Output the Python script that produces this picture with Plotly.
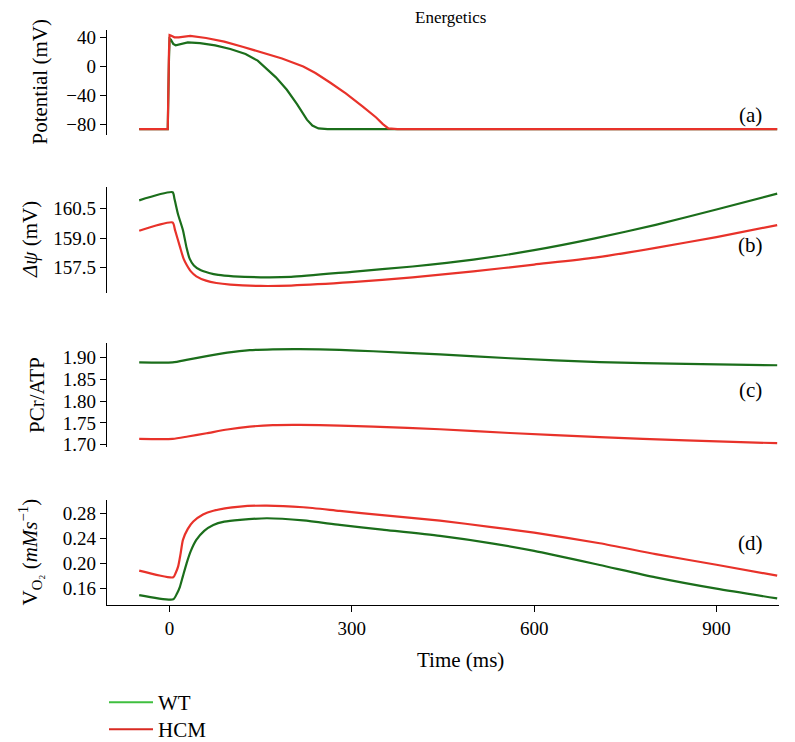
import plotly.graph_objects as go

# ---------------- data ----------------
# (a) membrane potential (mV)
ap_wt_t = [-50, -3, -1, 0, 2, 6, 10, 18, 30, 50, 75, 100, 125, 145, 160, 175, 193, 210, 226, 235, 245, 260, 1000]
ap_wt_v = [-86, -86, 10, 38, 37, 31, 29, 31, 33, 32, 29, 24, 17, 8, -3, -15, -32, -52, -73, -81, -85, -86, -86]
ap_hcm_t = [-50, -3, -1, 0, 3, 8, 15, 34, 60, 90, 120, 150, 185, 220, 240, 264, 290, 318, 340, 351, 360, 375, 1000]
ap_hcm_v = [-86, -86, 20, 43, 42, 40, 40, 42, 39, 34, 27, 20, 11, 0, -9, -22, -37, -55, -70, -79, -85, -86, -86]

# (b) mitochondrial membrane potential (mV)
dpsi_wt_t = [-50, 5, 8, 14, 22, 28, 33, 40, 50, 65, 80, 105, 150, 200, 300, 400, 500, 600, 700, 800, 900, 1000]
dpsi_wt_v = [160.92, 161.33, 161.0, 160.2, 159.4, 158.5, 157.95, 157.6, 157.38, 157.22, 157.12, 157.05, 157.0,
             157.02, 157.28, 157.55, 157.9, 158.38, 158.98, 159.67, 160.45, 161.26]
dpsi_hcm_t = [-50, 5, 9, 17, 23, 28, 35, 44, 60, 77, 100, 150, 200, 300, 400, 500, 600, 700, 800, 900, 1000]
dpsi_hcm_v = [159.37, 159.79, 159.4, 158.56, 157.95, 157.64, 157.3, 157.05, 156.83, 156.71, 156.63, 156.56,
              156.58, 156.75, 157.0, 157.3, 157.65, 158.0, 158.5, 159.05, 159.66]

# (c) PCr/ATP
pcr_t = [-50, 5, 30, 61, 95, 132, 170, 214, 280, 335, 445, 560, 708, 850, 1000]
pcr_wt = [1.8886, 1.8886, 1.895, 1.903, 1.911, 1.9167, 1.9185, 1.919, 1.917, 1.914, 1.907, 1.898, 1.889, 1.885, 1.882]
pcr_hcm = [1.7135, 1.7135, 1.719, 1.7265, 1.735, 1.7416, 1.745, 1.7455, 1.744, 1.7416, 1.7356, 1.727, 1.7174, 1.710, 1.7037]

# (d) oxygen consumption (mM/s)
vo2_wt_t = [-50, 6, 12, 17, 22, 28, 35, 44, 57, 72, 90, 116, 160, 220, 280, 350, 445, 530, 600, 708, 800, 900, 1000]
vo2_wt_v = [0.1498, 0.143, 0.152, 0.163, 0.180, 0.2003, 0.220, 0.2375, 0.252, 0.2614, 0.2665, 0.2693, 0.272,
            0.2685, 0.2614, 0.254, 0.2438, 0.232, 0.220, 0.1976, 0.178, 0.160, 0.1445]
vo2_hcm_t = [-50, 6, 10, 14, 18, 22, 30, 39, 55, 72, 116, 160, 220, 280, 350, 445, 530, 600, 708, 800, 900, 1000]
vo2_hcm_v = [0.1886, 0.178, 0.185, 0.195, 0.215, 0.2375, 0.255, 0.2667, 0.278, 0.284, 0.2906, 0.2921, 0.2895,
             0.2837, 0.277, 0.2682, 0.258, 0.249, 0.2322, 0.215, 0.198, 0.1806]

series_names = ["WT", "HCM"]
x_ticks = [0, 300, 600, 900]
ticks_a = [40, 0, -40, -80]
ticks_b = [160.5, 159.0, 157.5]
ticks_c = [1.90, 1.85, 1.80, 1.75, 1.70]
ticks_d = [0.28, 0.24, 0.20, 0.16]

# ---------------- style ----------------
WT_C = "#1b6e1b"
HCM_C = "#e8322a"
WT_LEG = "#3fbf3f"
HCM_LEG = "#d92a22"
FONT = "Liberation Serif"
FS_TICK = 19
FS_LAB = 21
FS_TITLE = 17
LW = 2.2

# page body has an 8px default margin: figure is drawn 8px in from the window edge
OFF = 8
FIG_W, FIG_H = 795 - 2 * OFF, 742 - OFF

fig = go.Figure()

panels = [
    (ap_wt_t, ap_wt_v, ap_hcm_t, ap_hcm_v, "", "y", "linear"),
    (dpsi_wt_t, dpsi_wt_v, dpsi_hcm_t, dpsi_hcm_v, "2", "y2", "spline"),
    (pcr_t, pcr_wt, pcr_t, pcr_hcm, "3", "y3", "spline"),
    (vo2_wt_t, vo2_wt_v, vo2_hcm_t, vo2_hcm_v, "4", "y4", "spline"),
]
for wt_t, wt_v, h_t, h_v, sx, sy, shp in panels:
    fig.add_trace(go.Scatter(x=wt_t, y=wt_v, mode="lines",
                             line=dict(color=WT_C, width=LW, shape=shp, smoothing=0.6),
                             xaxis="x" + sx, yaxis=sy, showlegend=False))
    fig.add_trace(go.Scatter(x=h_t, y=h_v, mode="lines",
                             line=dict(color=HCM_C, width=LW, shape=shp, smoothing=0.6),
                             xaxis="x" + sx, yaxis=sy, showlegend=False))

# legend entries (one legend box per entry so each can be placed exactly)
fig.add_trace(go.Scatter(x=[None], y=[None], mode="lines", name=series_names[0], legend="legend",
                         line=dict(color=WT_LEG, width=2), xaxis="x4", yaxis="y4"))
fig.add_trace(go.Scatter(x=[None], y=[None], mode="lines", name=series_names[1], legend="legend2",
                         line=dict(color=HCM_LEG, width=2), xaxis="x4", yaxis="y4"))

XR = [-103, 1003]
hidden_x = dict(range=XR, visible=False, showgrid=False, zeroline=False)
fig.update_layout(
    xaxis=dict(hidden_x, anchor="y"),
    xaxis2=dict(hidden_x, anchor="y2"),
    xaxis3=dict(hidden_x, anchor="y3"),
    xaxis4=dict(range=XR, anchor="y4", showline=True, linecolor="black", linewidth=1.3,
                ticks="outside", ticklen=6, tickwidth=1.3, tickcolor="black",
                tickvals=x_ticks, ticktext=[str(v) for v in x_ticks],
                showgrid=False, zeroline=False, automargin=False,
                tickfont=dict(size=FS_TICK, color="black", family=FONT)),
)

def yax(dom, rng, tv, fmt):
    return dict(domain=dom, range=rng, showline=True, linecolor="black", linewidth=1.3,
                ticks="outside", ticklen=6, tickwidth=1.3, tickcolor="black",
                tickvals=tv, ticktext=[fmt.format(v).replace("-", "\u2212") for v in tv],
                showgrid=False, zeroline=False, automargin=False,
                tickfont=dict(size=FS_TICK, color="black", family=FONT))

fig.update_layout(
    yaxis=yax([0.8174, 1.0], [-94, 50], ticks_a, "{:d}"),
    yaxis2=yax([0.5426, 0.7270], [156.2, 161.6], ticks_b, "{:.1f}"),
    yaxis3=yax([0.2748, 0.4557], [1.695, 1.933], ticks_c, "{:.2f}"),
    yaxis4=yax([0.0, 0.1826], [0.134, 0.301], ticks_d, "{:.2f}"),
)

W = 672.0
def px(xp):
    return (xp - 107) / W

annots = [
    dict(text="Energetics", x=px(450), y=1.0 + 12 / 575, textangle=0, size=FS_TITLE),
    dict(text="Time (ms)", x=px(460), y=-(660 - 605) / 575, textangle=0, size=FS_LAB),
    dict(text="Potential (mV)", x=px(40), y=(0.8174 + 1.0) / 2, textangle=-90, size=FS_LAB),
    dict(text="<i>Δψ</i> (mV)", x=px(30), y=(0.5426 + 0.7270) / 2, textangle=-90, size=FS_LAB),
    dict(text="PCr/ATP", x=px(37), y=(0.2748 + 0.4557) / 2, textangle=-90, size=FS_LAB),
    dict(text="V<sub>O₂</sub> (<i>mMs</i><sup>−1</sup>)", x=px(30), y=0.1826 / 2, textangle=-90, size=FS_LAB),
    dict(text="(a)", x=px(750), y=(605 - 115) / 575, textangle=0, size=FS_LAB),
    dict(text="(b)", x=px(750), y=(605 - 245) / 575, textangle=0, size=FS_LAB),
    dict(text="(c)", x=px(750), y=(605 - 390) / 575, textangle=0, size=FS_LAB),
    dict(text="(d)", x=px(750), y=(605 - 543) / 575, textangle=0, size=FS_LAB),
]
for a in annots:
    sz = a.pop("size")
    a.update(xref="paper", yref="paper", showarrow=False, xanchor="center", yanchor="middle",
             font=dict(family=FONT, size=sz, color="black"))

def leg(top_px):
    return dict(xref="container", yref="container",
                x=(104 - OFF) / FIG_W, y=1 - (top_px - OFF) / FIG_H, xanchor="left", yanchor="top",
                bgcolor="rgba(0,0,0,0)", font=dict(size=FS_LAB, family=FONT, color="black"),
                itemwidth=44)

fig.update_layout(
    annotations=annots,
    width=FIG_W, height=FIG_H,
    margin=dict(l=107 - OFF, r=FIG_W - (779 - OFF), t=30 - OFF, b=FIG_H - (605 - OFF), autoexpand=False),
    paper_bgcolor="white", plot_bgcolor="white",
    font=dict(family=FONT, size=FS_LAB, color="black"),
    showlegend=True,
    legend=leg(682),
    legend2=leg(709),
)

fig.write_html("out.html")
